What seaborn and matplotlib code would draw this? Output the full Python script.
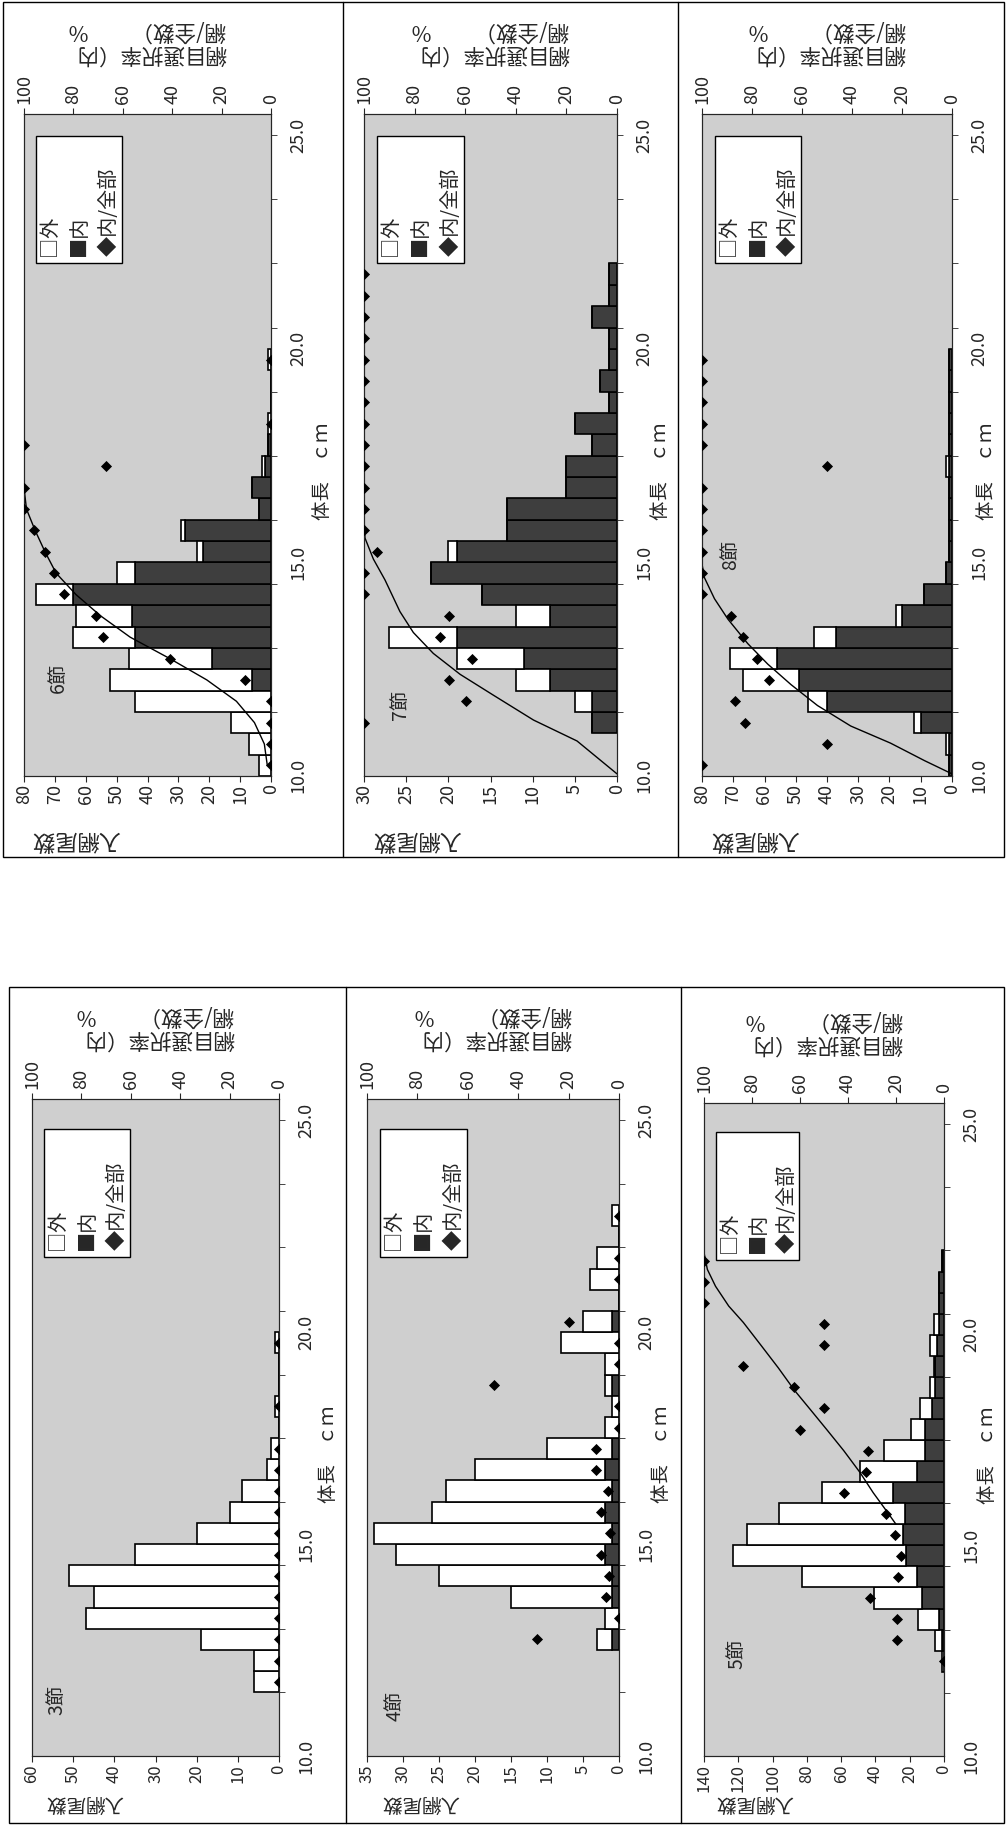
import numpy as np
import matplotlib.pyplot as plt
from matplotlib.patches import Rectangle
import seaborn as sns

sns.set_style('ticks')
plt.rcParams['font.family'] = ['Noto Sans CJK JP', 'DejaVu Sans']

nan = np.nan

# 6節
L6 = [10.0, 10.5, 11.0, 11.5, 12.0, 12.5, 13.0, 13.5, 14.0, 14.5, 15.0, 15.5, 16.0, 16.5, 17.0, 17.5, 18.0, 18.5, 19.0, 19.5]
in6 = [0, 0, 0, 0, 6, 19, 44, 45, 64, 44, 22, 28, 4, 6, 2, 1, 0, 0, 0, 0]
out6 = [4, 7, 13, 44, 46, 27, 20, 18, 12, 6, 2, 1, 0, 0, 1, 0, 1, 0, 0, 1]
r6 = [0, 0, 0, 0, 10.4, 40.8, 68, 71, 84, 88, 91.5, 96, 100, 100, 66.6, 100, 0, nan, nan, 0]
c6_L = [10.0, 10.5, 11.0, 11.5, 12.0, 12.5, 13.0, 13.5, 14.0, 14.5, 15.0, 15.5, 16.0, 16.5, 17.5]
c6_p = [1.5, 2.7, 6.7, 14, 26, 41, 57, 69, 79, 87, 91.5, 95.5, 99, 100, 100]

# 7節
L7 = [11.0, 11.5, 12.0, 12.5, 13.0, 13.5, 14.0, 14.5, 15.0, 15.5, 16.0, 16.5, 17.0, 17.5, 18.0, 18.5, 19.0, 19.5, 20.0, 20.5, 21.0, 21.5]
in7 = [3, 3, 8, 11, 19, 8, 16, 22, 19, 13, 13, 6, 6, 3, 5, 1, 2, 1, 1, 3, 1, 1]
out7 = [0, 2, 4, 8, 8, 4, 0, 0, 1, 0, 0, 0, 0, 0, 0, 0, 0, 0, 0, 0, 0, 0]
r7 = [100, 59.6, 66.6, 57.4, 70, 66.6, 100, 100, 95, 100, 100, 100, 100, 100, 100, 100, 100, 100, 100, 100, 100, 100]
c7_L = [9.8, 10.57, 11.06, 11.64, 12.13, 12.62, 13.11, 13.6, 14.34, 14.83, 15.32, 15.8]
c7_p = [0, 15.8, 33, 48.8, 62, 72.6, 80.5, 85.8, 91.7, 96.3, 99.6, 100]

# 8節
L8 = [10.0, 10.5, 11.0, 11.5, 12.0, 12.5, 13.0, 13.5, 14.0, 14.5, 15.0, 15.5, 16.0, 16.5, 17.0, 17.5, 18.0, 18.5, 19.0, 19.5]
in8 = [1, 1, 10, 40, 49, 56, 37, 16, 9, 2, 1, 1, 1, 1, 1, 1, 1, 1, 1, 1]
out8 = [0, 1, 2, 6, 18, 15, 7, 2, 0, 0, 0, 0, 0, 0, 1, 0, 0, 0, 0, 0]
r8 = [100, 50, 83, 86.7, 73, 78, 83.7, 88.6, 100, 100, 100, 100, 100, 100, 50, 100, 100, 100, 100, 100]
c8_L = [9.8, 10.11, 10.52, 10.92, 11.4, 11.89, 12.37, 12.85, 13.42, 13.9, 14.39, 14.71]
c8_p = [0, 11, 24.6, 40.5, 53.8, 64.4, 73.7, 81.7, 89.6, 95, 99, 100]

# 3節
L3 = [11.5, 12.0, 12.5, 13.0, 13.5, 14.0, 14.5, 15.0, 15.5, 16.0, 16.5, 17.0, 17.5, 18.0, 18.5, 19.0, 19.5]
in3 = [0] * 17
out3 = [6, 6, 19, 47, 45, 51, 35, 20, 12, 9, 3, 2, 0, 1, 0, 0, 1]
r3 = [0, 0, 0, 0, 0, 0, 0, 0, 0, 0, 0, 0, nan, 0, nan, nan, 0]

# 4節
L4 = [12.5, 13.0, 13.5, 14.0, 14.5, 15.0, 15.5, 16.0, 16.5, 17.0, 17.5, 18.0, 18.5, 19.0, 19.5, 20.0, 20.5, 21.0, 21.5, 22.0, 22.5]
in4 = [1, 0, 1, 1, 2, 1, 2, 1, 2, 1, 0, 0, 1, 0, 0, 1, 0, 0, 0, 0, 0]
out4 = [2, 2, 14, 24, 29, 33, 24, 23, 18, 9, 2, 1, 1, 2, 8, 4, 0, 4, 3, 0, 1]
r4 = [32.5, 0, 5.3, 4, 7, 3.6, 7, 4.4, 9.3, 9.3, 0, 0, 49.8, 0, 0, 20, nan, 0, 0, nan, 0]

# 5節
L5 = [12.0, 12.5, 13.0, 13.5, 14.0, 14.5, 15.0, 15.5, 16.0, 16.5, 17.0, 17.5, 18.0, 18.5, 19.0, 19.5, 20.0, 20.5, 21.0, 21.5]
in5 = [0, 1, 3, 13, 16, 22, 24, 23, 30, 16, 11, 11, 7, 5, 5, 4, 3, 3, 3, 1]
out5 = [1, 4, 12, 28, 67, 101, 91, 73, 41, 33, 24, 8, 7, 3, 1, 4, 3, 0, 0, 0]
r5 = [0, 19.6, 19.6, 30.8, 19.2, 17.8, 20.5, 24, 41.8, 32.6, 31.5, 60, 50, 62.6, 83.6, 50, 50, 100, 100, 100]
c5_L = [15.25, 15.57, 16.0, 16.48, 17.0, 17.48, 17.96, 18.43, 18.96, 19.48, 20.04, 20.43, 20.9, 21.3, 21.7]
c5_p = [20, 24, 29.5, 35, 41.8, 48.6, 55.5, 62.3, 69, 76, 83.6, 89.7, 95.2, 98.6, 100]

W, H = 1007, 1825
fig = plt.figure(figsize=(W / 100, H / 100), dpi=100)
bg = '#cfcfcf'
dark = '#3e3e3e'


def panel(box, L, inner, outer, ratio, cmax, cstep, name, name_xy, row, lab_x, curve_L=None, curve_p=None):
    x0, y0, x1, y1 = box
    ax = fig.add_axes([x0 / W, 1 - y1 / H, (x1 - x0) / W, (y1 - y0) / H])
    ax.set_facecolor(bg)
    ax.barh(L, inner, height=0.5, color=dark, edgecolor='black', linewidth=1.2, zorder=2)
    ax.barh(L, outer, left=inner, height=0.5, color='white', edgecolor='black', linewidth=1.2, zorder=2)

    ax2 = ax.twiny()
    if curve_L is not None:
        sns.lineplot(x=curve_p, y=curve_L, sort=False, estimator=None, color='black', linewidth=1, ax=ax2)
    sns.scatterplot(x=ratio, y=L, marker='D', s=32, color='black', linewidth=0, ax=ax2, zorder=4)

    ax.set_xlim(cmax, 0)
    ax.set_ylim(9.75, 25.25)
    ax2.set_xlim(100, 0)
    ax.set_xticks(np.arange(0, cmax + 1, cstep))
    ax.tick_params(axis='x', labelrotation=90, labelsize=13 if row == 0 else 12, length=4, pad=2)
    ax.yaxis.tick_right()
    ax.set_yticks([10, 15, 20, 25], ['10.0', '15.0', '20.0', '25.0'])
    ax.set_yticks(np.arange(11.25, 25, 1.5), minor=True)
    ax.tick_params(axis='y', which='major', length=0, pad=13, labelrotation=90, labelsize=13)
    ax.tick_params(axis='y', which='minor', length=4)
    ax2.set_xticks(range(0, 101, 20))
    ax2.tick_params(axis='x', labelrotation=90, labelsize=13, length=4, pad=3)
    ax2.set_xlabel('')
    ax2.set_ylabel('')

    # 軸タイトル (回転した図)
    if row == 0:
        ax.text(0.21, -0.096, '入網尾数', rotation=180, ha='center', va='center', fontsize=16,
                transform=ax.transAxes)
    else:
        ax.text(0.21, -0.071, '入網尾数', rotation=180, ha='center', va='center', fontsize=14,
                transform=ax.transAxes)
    ax.text(0.5, 1.11, '網目選択率（内\n網/全数）　　%', rotation=180, ha='center', va='center',
            multialignment='left', fontsize=15.5, linespacing=1.05, transform=ax.transAxes)
    ax.text(lab_x, 0.46, '体長　ｃｍ', rotation=90, ha='center', va='center', fontsize=14, transform=ax.transAxes)
    ax.text(name_xy[0], name_xy[1], name, rotation=90, ha='center', va='center', fontsize=14, transform=ax.transAxes)

    # 凡例
    ly0, ly1 = (0.775, 0.967) if row == 0 else (0.76, 0.955)
    ax.add_patch(Rectangle((0.05, ly0), 0.345, ly1 - ly0, transform=ax.transAxes,
                           facecolor='white', edgecolor='black', linewidth=1, zorder=5))
    for lx, txt in zip([0.105, 0.225, 0.345], ['□外', '■内', '◆内/全部']):
        ax.text(lx, ly0 + 0.01, txt, rotation=90, ha='center', va='bottom', fontsize=14.5,
                transform=ax.transAxes, zorder=6)
    return ax


panel((24, 114, 271, 776), L6, in6, out6, r6, 80, 10, '6節', (0.14, 0.148), 0, 1.21, c6_L, c6_p)
panel((364, 114, 617, 776), L7, in7, out7, r7, 30, 5, '7節', (0.146, 0.107), 0, 1.17, c7_L, c7_p)
panel((702, 114, 952, 776), L8, in8, out8, r8, 80, 10, '8節', (0.116, 0.334), 0, 1.14, c8_L, c8_p)
panel((32, 1099, 279, 1756), L3, in3, out3, r3, 60, 10, '3節', (0.1, 0.085), 1, 1.2)
panel((367, 1099, 619, 1756), L4, in4, out4, r4, 35, 5, '4節', (0.11, 0.076), 1, 1.17)
panel((704, 1103, 944, 1756), L5, in5, out5, r5, 140, 20, '5節', (0.136, 0.156), 1, 1.18, c5_L, c5_p)

# 外枠
for (x0, y0, x1, y1) in [(3, 2, 1004, 857), (9, 987, 1004, 1823)]:
    fig.add_artist(Rectangle((x0 / W, 1 - y1 / H), (x1 - x0) / W, (y1 - y0) / H,
                             transform=fig.transFigure, fill=False, edgecolor='black', linewidth=1))
for x, (y0, y1) in [(343, (2, 857)), (678, (2, 857)), (346, (987, 1823)), (681, (987, 1823))]:
    fig.add_artist(plt.Line2D([x / W, x / W], [1 - y1 / H, 1 - y0 / H], transform=fig.transFigure,
                              color='black', linewidth=1))

fig.savefig('out.png', dpi=100)
